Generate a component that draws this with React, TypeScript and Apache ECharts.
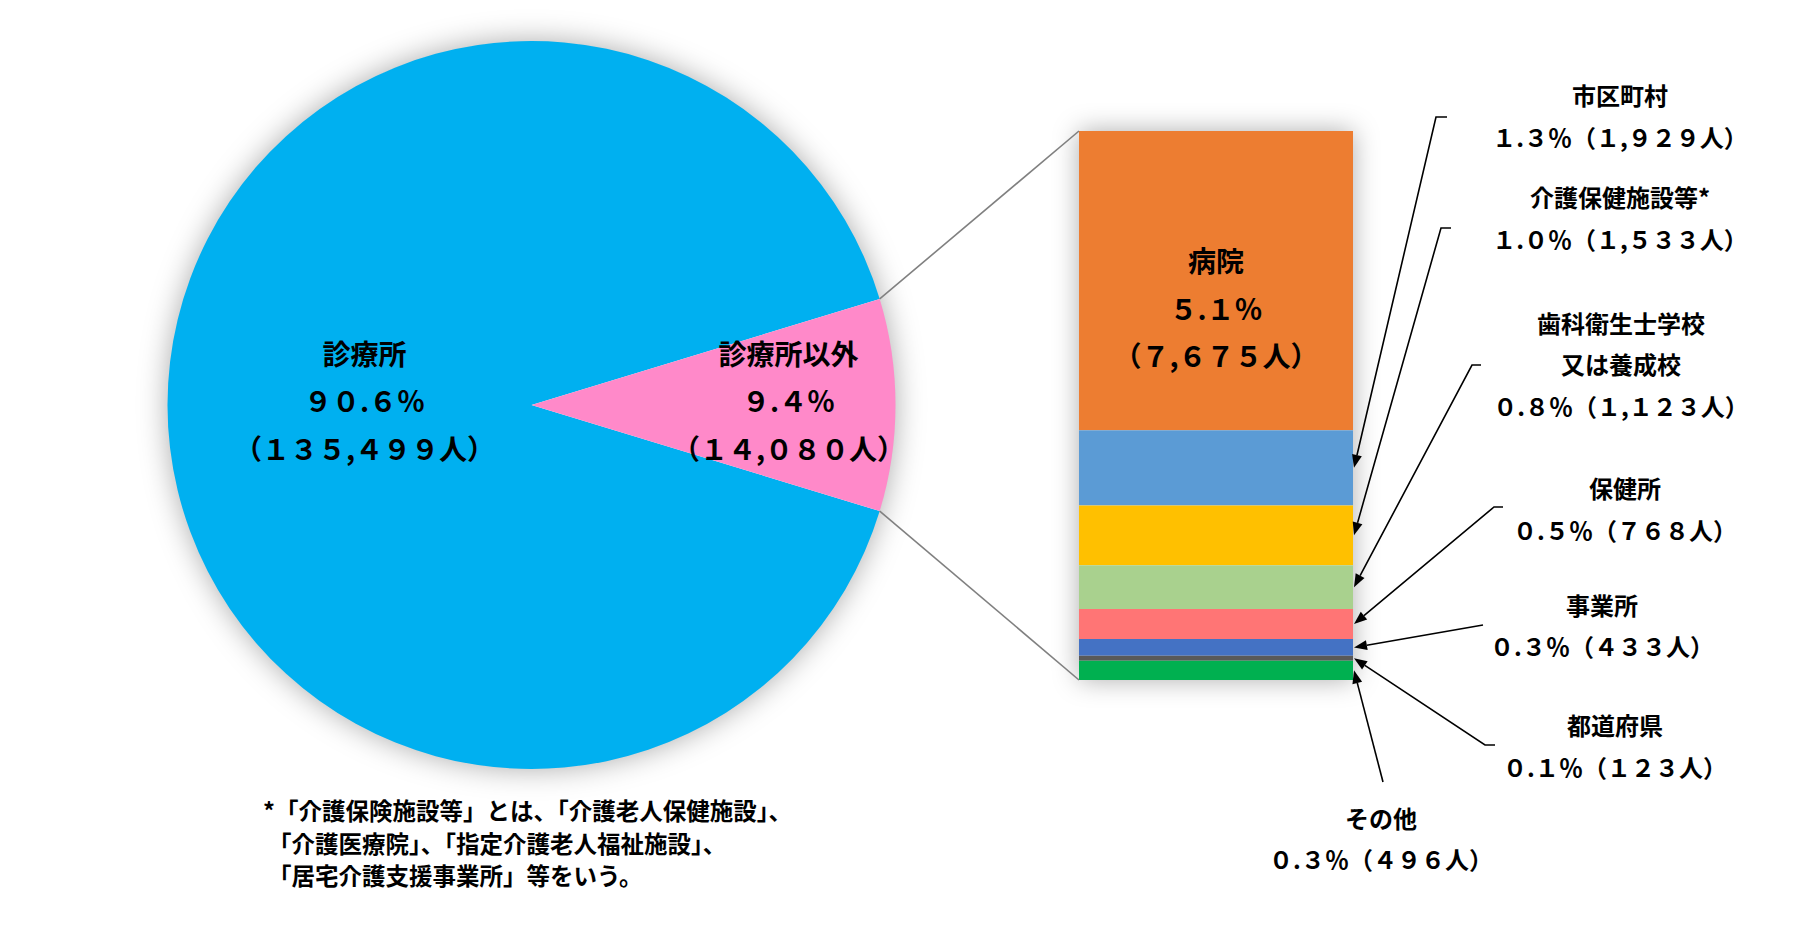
import React, { useEffect, useRef } from 'react';
import * as echarts from 'echarts';

// ---------- data ----------
const pieNames = ['診療所', '診療所以外'];
const pieCounts = [135499, 14080];
const piePercents = [90.6, 9.4];
const pieColors = ['#00B0F0', '#FF89C9'];

const barNames = ['病院', '市区町村', '介護保健施設等*', '歯科衛生士学校\n又は養成校', '保健所', '事業所', '都道府県', 'その他'];
const barCounts = [7675, 1929, 1533, 1123, 768, 433, 123, 496];
const barPercents = [5.1, 1.3, 1.0, 0.8, 0.5, 0.3, 0.1, 0.3];
const barColors = ['#ED7D31', '#5B9BD5', '#FFC000', '#A9D18E', '#FF7575', '#4472C4', '#595959', '#00B050'];

const footnoteLines = [
  '*「介護保険施設等」とは、「介護老人保健施設」、',
  '「介護医療院」、「指定介護老人福祉施設」、',
  '「居宅介護支援事業所」等をいう。',
];

// ---------- layout ----------
const W = 1814;
const H = 937;
const FONT = '"Noto Sans CJK JP", "Noto Sans CJK SC", sans-serif';
const PIE_C = [531.5, 405];
const PIE_R = 364;
const GRID = { left: 1079, top: 131, width: 274, height: 549 };
const pieLabelDx = [9, 36];
const calloutTextPos: (number[] | null)[] = [null, [1620, 115.5], [1620, 217.5], [1621, 363.5], [1625, 508.5], [1602, 625], [1615, 745.5], [1381, 838]];
const arrowTails: (number[][] | null)[] = [
  null,
  [[1447, 117], [1436, 117]],
  [[1451, 228], [1441, 228]],
  [[1481, 365], [1472, 365]],
  [[1503, 507], [1494, 507]],
  [[1483, 625]],
  [[1495, 745], [1485, 745]],
  [[1383, 782]],
];

const fw = (s: string) => s.replace(/[0-9]/g, (d) => String.fromCharCode(d.charCodeAt(0) + 0xfee0));
const pctText = (p: number) => fw(p.toFixed(1)) + '％';
const cntText = (n: number) => '（' + fw(n.toLocaleString('en-US')) + '人）';

export default function App() {
  const ref = useRef<HTMLDivElement>(null);
  useEffect(() => {
    document.body.style.margin = '0';
    const chart = echarts.init(ref.current!, undefined, { renderer: 'svg' });
    const total = barCounts.reduce((a, b) => a + b, 0);
    const pieTotal = pieCounts.reduce((a, b) => a + b, 0);
    const halfDeg = (360 * pieCounts[1]) / pieTotal / 2;

    const labelStyle = { color: '#000', fontFamily: FONT, fontWeight: 'bold' as const, fontSize: 28, lineHeight: 47.5 };

    chart.setOption({
      animation: false,
      backgroundColor: '#fff',
      grid: { ...GRID, containLabel: false },
      xAxis: { type: 'category', data: ['内訳'], show: false },
      yAxis: { type: 'value', min: 0, max: total, inverse: true, show: false },
      series: [
        {
          type: 'pie',
          center: PIE_C,
          radius: PIE_R,
          startAngle: -halfDeg,
          clockwise: true,
          z: 3,
          itemStyle: { borderWidth: 0 },
          emphasis: { disabled: true },
          label: {
            show: true,
            position: 'inside',
            ...labelStyle,
            formatter: (p: any) => `${p.name}\n${pctText(piePercents[p.dataIndex])}\n${cntText(pieCounts[p.dataIndex])}`,
          },
          labelLayout: (params: any) => ({ dx: pieLabelDx[params.dataIndex], dy: -2.5 }),
          data: pieNames.map((name, i) => ({ name, value: pieCounts[i], itemStyle: { color: pieColors[i] } })),
        },
        ...barNames.map((name, i) => ({
          type: 'bar',
          name,
          stack: 'total',
          barWidth: '100%',
          z: 3,
          emphasis: { disabled: true },
          itemStyle: { color: barColors[i] },
          label:
            i === 0
              ? {
                  show: true,
                  position: 'inside',
                  offset: [0, 27],
                  ...labelStyle,
                  formatter: () => `${name}\n${pctText(barPercents[i])}\n${cntText(barCounts[i])}`,
                }
              : { show: false },
          data: [barCounts[i]],
        })),
      ],
    });

    const yPix = (v: number) => chart.convertToPixel({ yAxisIndex: 0 }, v) as unknown as number;
    const barTop = yPix(0);
    const barBottom = yPix(total);
    const barLeft = GRID.left;
    const barRight = GRID.left + GRID.width;
    const a = (halfDeg * Math.PI) / 180;
    const pTop = [PIE_C[0] + PIE_R * Math.cos(a), PIE_C[1] - PIE_R * Math.sin(a)];
    const pBot = [PIE_C[0] + PIE_R * Math.cos(a), PIE_C[1] + PIE_R * Math.sin(a)];

    const graphics: any[] = [
      {
        type: 'circle',
        z: 0,
        silent: true,
        shape: { cx: PIE_C[0], cy: PIE_C[1], r: PIE_R - 1 },
        style: { fill: '#fff', shadowBlur: 30, shadowColor: 'rgba(0,0,0,0.35)' },
      },
      {
        type: 'rect',
        z: 0,
        silent: true,
        shape: { x: barLeft, y: barTop, width: barRight - barLeft, height: barBottom - barTop },
        style: { fill: '#fff', shadowBlur: 26, shadowColor: 'rgba(0,0,0,0.32)' },
      },
      { type: 'line', z: 10, silent: true, shape: { x1: pTop[0], y1: pTop[1], x2: barLeft, y2: barTop }, style: { stroke: '#808080', lineWidth: 1.6 } },
      { type: 'line', z: 10, silent: true, shape: { x1: pBot[0], y1: pBot[1], x2: barLeft, y2: barBottom }, style: { stroke: '#808080', lineWidth: 1.6 } },
    ];

    let cum = 0;
    barCounts.forEach((c, i) => {
      const mid = cum + c / 2;
      cum += c;
      const tail = arrowTails[i];
      const tp = calloutTextPos[i];
      if (!tail || !tp) return;
      const tip = [barRight + 1, yPix(mid)];
      const prev = tail[tail.length - 1];
      const dx = tip[0] - prev[0];
      const dy = tip[1] - prev[1];
      const len = Math.hypot(dx, dy);
      const ux = dx / len;
      const uy = dy / len;
      const L = 13;
      const Wd = 5;
      const base = [tip[0] - L * ux, tip[1] - L * uy];
      graphics.push({
        type: 'polyline',
        z: 10,
        silent: true,
        shape: { points: [...tail, base] },
        style: { stroke: '#000', lineWidth: 1.6, fill: null },
      });
      graphics.push({
        type: 'polygon',
        z: 10,
        silent: true,
        shape: { points: [tip, [base[0] - Wd * uy, base[1] + Wd * ux], [base[0] + Wd * uy, base[1] - Wd * ux]] },
        style: { fill: '#000' },
      });
      graphics.push({
        type: 'text',
        z: 10,
        silent: true,
        x: tp[0],
        y: tp[1],
        style: {
          text: `${barNames[i]}\n${pctText(barPercents[i])}${cntText(barCounts[i])}`,
          fill: '#000',
          fontFamily: FONT,
          fontWeight: 'bold',
          fontSize: 24,
          lineHeight: 41.5,
          align: 'center',
          verticalAlign: 'middle',
        },
      });
    });

    footnoteLines.forEach((t, i) => {
      graphics.push({
        type: 'text',
        z: 10,
        silent: true,
        x: i === 0 ? 263 : 268,
        y: 810 + i * 32.5,
        style: {
          text: t,
          fill: '#000',
          fontFamily: FONT,
          fontWeight: 'bold',
          fontSize: 23.5,
          align: 'left',
          verticalAlign: 'middle',
        },
      });
    });

    chart.setOption({ graphic: graphics });
    return () => chart.dispose();
  }, []);
  return <div ref={ref} style={{ width: W, height: H }} />;
}
